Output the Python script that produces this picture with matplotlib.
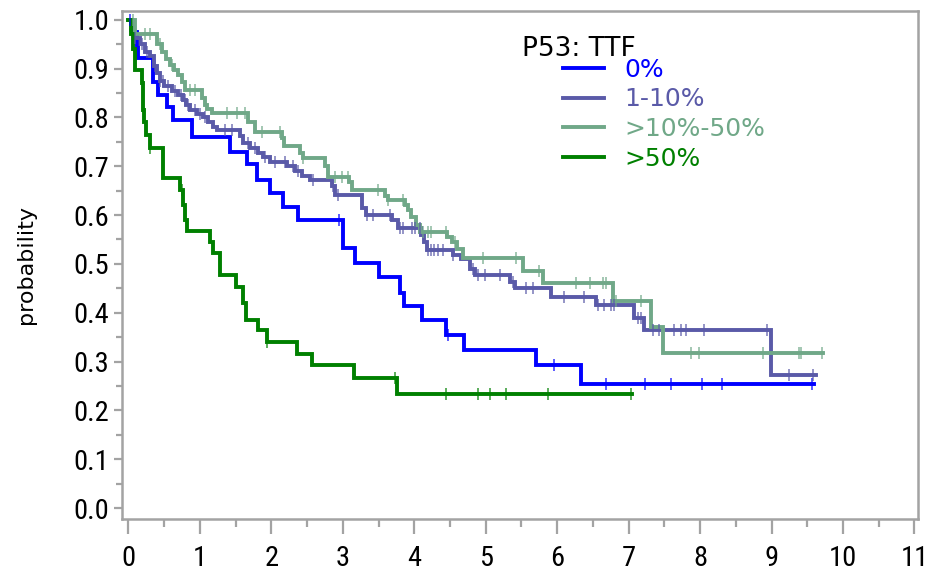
import numpy as np
import matplotlib
matplotlib.use("Agg")
import matplotlib.pyplot as plt
from matplotlib import font_manager as fm
from matplotlib.ticker import MultipleLocator

# -----------------------------
# Data
# -----------------------------

groups = ["0%", "1-10%", ">10%-50%", ">50%"]
colors = ["#0000ff", "#5a5aa8", "#70a888", "#008000"]

# event times and survival after each drop
blue_t = [0.05, 0.12, 0.14, 0.34, 0.41, 0.54, 0.62, 0.89, 1.42, 1.66, 1.80, 1.98,
          2.17, 2.38, 3.00, 3.17, 3.50, 3.80, 3.85, 4.11, 4.44, 4.69, 5.70, 6.34]
blue_s = [0.974, 0.947, 0.922, 0.872, 0.846, 0.821, 0.795, 0.760, 0.730, 0.705, 0.672, 0.645,
          0.617, 0.590, 0.533, 0.502, 0.473, 0.440, 0.414, 0.385, 0.355, 0.324, 0.293, 0.254]
blue_end = 9.60
blue_cens = [0.02, 0.13, 2.94, 4.47, 5.96, 6.69, 7.23, 7.60, 8.03, 8.30, 9.57]

purple_t = [0.03, 0.08, 0.16, 0.23, 0.30, 0.36, 0.40, 0.44, 0.50, 0.61, 0.69, 0.76,
            0.80, 0.86, 0.96, 1.04, 1.11, 1.18, 1.24, 1.56, 1.60, 1.70, 1.81, 1.88,
            1.98, 2.22, 2.33, 2.43, 2.54, 2.85, 2.89, 3.27, 3.32, 3.69, 3.77, 4.10,
            4.13, 4.18, 4.54, 4.66, 4.78, 4.85, 5.34, 5.41, 5.92, 6.55, 7.08, 7.22, 8.99]
purple_s = [0.980, 0.963, 0.950, 0.935, 0.925, 0.905, 0.890, 0.875, 0.865, 0.855, 0.845, 0.835,
            0.825, 0.815, 0.808, 0.800, 0.790, 0.780, 0.775, 0.762, 0.748, 0.738, 0.727, 0.718,
            0.709, 0.700, 0.690, 0.680, 0.672, 0.660, 0.641, 0.615, 0.600, 0.590, 0.574, 0.560,
            0.545, 0.529, 0.518, 0.510, 0.490, 0.477, 0.463, 0.450, 0.432, 0.416, 0.390, 0.365, 0.273]
purple_end = 9.62
purple_cens = [0.09, 0.19, 0.26, 0.37, 0.44, 0.48, 0.55, 0.65, 0.73, 0.79, 0.83, 0.93, 1.00,
               1.07, 1.35, 1.45, 1.67, 1.77, 1.91, 2.05, 2.19, 2.30, 2.37, 2.58, 2.86, 2.93,
               3.34, 3.42, 3.66, 3.80, 3.84, 3.97, 4.01, 4.08, 4.19, 4.24, 4.28, 4.33, 4.40,
               4.54, 4.82, 4.89, 4.99, 5.20, 5.38, 5.57, 5.66, 6.09, 6.38, 6.57, 6.66, 6.75,
               6.80, 7.13, 7.17, 7.34, 7.42, 7.64, 7.74, 7.80, 8.06, 8.93, 9.24, 9.58]

teal_t = [0.09, 0.40, 0.47, 0.52, 0.58, 0.64, 0.69, 0.75, 0.79, 1.03, 1.07, 1.10, 1.17,
          1.67, 1.77, 2.15, 2.18, 2.40, 2.44, 2.75, 2.79, 3.08, 3.13, 3.59, 3.63, 3.87,
          3.91, 3.96, 4.02, 4.08, 4.46, 4.53, 4.60, 4.68, 5.52, 5.80, 6.78, 7.32, 7.48]
teal_s = [0.970, 0.950, 0.934, 0.920, 0.908, 0.897, 0.887, 0.872, 0.857, 0.840, 0.826, 0.818, 0.810,
          0.790, 0.770, 0.757, 0.742, 0.728, 0.717, 0.700, 0.678, 0.668, 0.652, 0.640, 0.631, 0.620,
          0.610, 0.596, 0.580, 0.566, 0.555, 0.545, 0.530, 0.512, 0.486, 0.461, 0.423, 0.371, 0.318]
teal_end = 9.72
teal_cens = [0.06, 0.23, 0.30, 0.44, 0.61, 0.86, 0.93, 1.38, 1.52, 1.63, 1.87, 2.12, 2.44,
             2.89, 2.99, 3.07, 3.49, 3.63, 3.84, 4.12, 4.19, 4.24, 4.45, 4.57, 4.96, 5.43,
             5.75, 6.27, 6.46, 6.64, 6.69, 6.83, 7.17, 7.87, 7.99, 8.88, 9.38, 9.41, 9.70]

green_t = [0.03, 0.06, 0.09, 0.19, 0.20, 0.21, 0.22, 0.25, 0.30, 0.48, 0.49, 0.72, 0.76,
           0.79, 0.82, 1.14, 1.19, 1.28, 1.51, 1.61, 1.65, 1.82, 1.94, 2.36, 2.57, 3.15, 3.76]
green_s = [0.970, 0.940, 0.897, 0.870, 0.840, 0.816, 0.790, 0.765, 0.738, 0.706, 0.676, 0.652, 0.620,
           0.590, 0.568, 0.545, 0.523, 0.477, 0.453, 0.420, 0.385, 0.365, 0.340, 0.316, 0.293, 0.266, 0.234]
green_end = 7.05
green_cens = [0.30, 0.48, 0.75, 1.94, 3.73, 4.45, 4.89, 5.06, 5.29, 5.87, 7.03]

curves = [
    (blue_t, blue_s, blue_end, blue_cens),
    (purple_t, purple_s, purple_end, purple_cens),
    (teal_t, teal_s, teal_end, teal_cens),
    (green_t, green_s, green_end, green_cens),
]

# -----------------------------
# Narrow font for tick labels, if one is around
# -----------------------------

TICK_SIZE = 20.5


def pick_narrow_font():
    for fam in ["Liberation Sans Narrow", "Roboto Condensed", "Open Sans Condensed"]:
        try:
            path = fm.findfont(fm.FontProperties(family=fam), fallback_to_default=False)
            return fm.FontProperties(fname=path, size=TICK_SIZE)
        except Exception:
            pass
    for f in fm.fontManager.ttflist:
        name = f.fname.lower()
        if ("condensed" in name or "narrow" in name) and "bold" not in name \
                and "italic" not in name and "oblique" not in name \
                and "light" not in name and "thin" not in name:
            return fm.FontProperties(fname=f.fname, size=TICK_SIZE)
    return fm.FontProperties(family="DejaVu Sans", size=16.5)


tick_prop = pick_narrow_font()

# -----------------------------
# Figure
# -----------------------------

W, H, DPI = 929, 577, 100
fig = plt.figure(figsize=(W / DPI, H / DPI), dpi=DPI)
ax = fig.add_axes([122 / W, 1 - 519 / H, (918 - 122) / W, (519 - 11) / H])

spine_gray = "#a3a3a3"

handles = []
for (t, s, t_end, cens), label, color in zip(curves, groups, colors):
    times = np.concatenate([[0.0], t, [t_end]])
    surv = np.concatenate([[1.0], s, [s[-1]]])
    line, = ax.step(times, surv, where="post", color=color, lw=2.8,
                    solid_joinstyle="miter", label=label, zorder=3)
    handles.append(line)
    # censor marks sit on the curve at their time
    idx = np.searchsorted(times, cens, side="right") - 1
    ax.plot(cens, surv[idx], linestyle="none", marker="|", markersize=9,
            mew=1.2, color=color, alpha=0.75, zorder=4)

ax.set_xlim(-0.09, 11.05)
ax.set_ylim(-0.0225, 1.018)

ax.xaxis.set_minor_locator(MultipleLocator(0.5))
ax.yaxis.set_minor_locator(MultipleLocator(0.05))
ax.set_xticks(np.arange(0, 12))
ax.set_yticks(np.round(np.arange(0, 1.01, 0.1), 1))
ax.set_yticklabels([f"{v:.1f}" for v in np.arange(0, 1.01, 0.1)])

for sp in ax.spines.values():
    sp.set_color(spine_gray)
    sp.set_linewidth(1.8)

ax.tick_params(axis="both", which="both", direction="out", color=spine_gray, width=1.6)
ax.tick_params(axis="x", which="major", length=11, pad=8)
ax.tick_params(axis="x", which="minor", length=6)
ax.tick_params(axis="y", which="major", length=6, pad=3)
ax.tick_params(axis="y", which="minor", length=4)

for lab in ax.get_xticklabels() + ax.get_yticklabels():
    lab.set_fontproperties(tick_prop)

ax.set_ylabel("probability", fontsize=16)
ax.yaxis.set_label_coords(-0.108, 0.5)

# legend
fig.text(522 / W, 1 - 49 / H, "P53: TTF", fontsize=19, ha="left", va="center")
leg = ax.legend(handles=handles, loc="upper left", frameon=False,
                bbox_to_anchor=(563 / W, 1 - 58 / H), bbox_transform=fig.transFigure,
                borderpad=0, borderaxespad=0, handlelength=1.65, handletextpad=0.8,
                labelspacing=0.22, fontsize=18, labelcolor="linecolor")

fig.savefig("out.png", dpi=DPI)
